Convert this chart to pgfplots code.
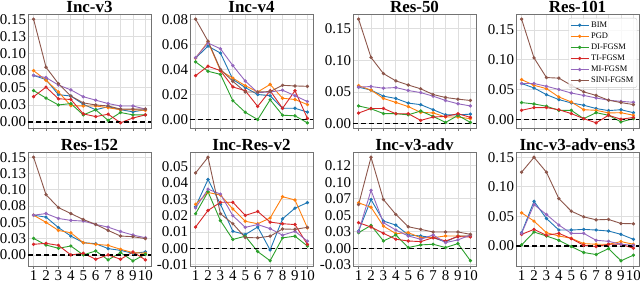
\documentclass[border=0pt]{standalone}
\usepackage{fontspec}
\setmainfont{Liberation Serif}
\usepackage{pgfplots}
\usepackage{pgfplotstable}
\pgfplotsset{compat=1.18}
\definecolor{cBIM}{HTML}{1F77B4}
\definecolor{cPGD}{HTML}{FF7F0E}
\definecolor{cDI}{HTML}{2CA02C}
\definecolor{cTI}{HTML}{D62728}
\definecolor{cMI}{HTML}{9467BD}
\definecolor{cSINI}{HTML}{8C564B}

\pgfplotstableread{
x bim pgd di ti mi sini
1 0.068 0.075 0.046 0.037 0.068 0.150
2 0.062 0.061 0.035 0.051 0.065 0.080
3 0.040 0.044 0.025 0.034 0.054 0.056
4 0.038 0.024 0.027 0.033 0.047 0.038
5 0.026 0.0235 0.0105 0.012 0.037 0.028
6 0.018 0.0235 0.018 0.008 0.032 0.025
7 0.0225 0.021 0.0025 0.0115 0.027 0.0235
8 0.018 0.018 0.014 -0.001 0.0235 0.019
9 0.015 0.018 0.0105 0.006 0.0235 0.019
10 0.018 0.017 0.0105 0.0105 0.019 0.019
}\tA
\pgfplotstableread{
x bim pgd di ti mi sini
1 0.049 0.049 0.046 0.035 0.0493 0.080
2 0.0585 0.062 0.0385 0.0425 0.061 0.0625
3 0.053 0.039 0.036 0.039 0.0564 0.040
4 0.032 0.033 0.015 0.026 0.043 0.0305
5 0.0255 0.027 0.0058 0.023 0.0307 0.022
6 0.020 0.022 0.000 0.0105 0.0215 0.022
7 0.019 0.028 0.0158 0.023 0.022 0.0223
8 0.009 0.017 0.0035 0.009 0.0234 0.0273
9 0.009 0.016 0.003 0.023 0.019 0.0268
10 0.006 0.012 -0.0026 0.001 0.0144 0.0265
}\tB
\pgfplotstableread{
x bim pgd di ti mi sini
1 0.0576 0.060 0.028 0.0168 0.0576 0.165
2 0.053 0.053 0.0235 0.024 0.0586 0.1045
3 0.0434 0.0398 0.016 0.024 0.056 0.079
4 0.0398 0.0335 0.0157 0.0157 0.057 0.0675
5 0.0325 0.027 0.014 0.0157 0.0523 0.061
6 0.030 0.0178 0.020 0.0052 0.049 0.055
7 0.022 0.017 0.0115 0.0105 0.0434 0.046
8 0.014 0.0105 0.002 0.0115 0.0366 0.0413
9 0.014 0.0105 0.013 0.0157 0.0314 0.0387
10 0.015 0.0079 0.002 0.010 0.028 0.0366
}\tC
\pgfplotstableread{
x bim pgd di ti mi sini
1 0.060 0.0665 0.028 0.015 0.060 0.168
2 0.0525 0.057 0.0257 0.0196 0.060 0.103
3 0.0413 0.0514 0.0218 0.0196 0.0553 0.070
4 0.033 0.0374 0.015 0.016 0.050 0.069
5 0.0274 0.029 0.015 0.0095 0.044 0.057
6 0.0235 0.016 0.001 0.001 0.040 0.046
7 0.018 0.015 0.011 -0.006 0.0357 0.040
8 0.0145 0.0106 0.0067 0.0067 0.032 0.032
9 0.016 0.011 -0.0045 0.000 0.030 0.028
10 0.011 0.0067 0.001 0.003 0.0285 0.0246
}\tD
\pgfplotstableread{
x bim pgd di ti mi sini
1 0.061 0.061 0.0254 0.0163 0.061 0.150
2 0.058 0.050 0.0152 0.0178 0.0635 0.0925
3 0.042 0.0376 0.0102 0.0147 0.056 0.0727
4 0.029 0.034 0.0137 0.000 0.053 0.0635
5 0.0188 0.0188 0.000 0.0025 0.052 0.0544
6 0.0173 0.0163 0.0061 -0.0066 0.0468 0.0468
7 0.0097 0.0147 -0.0076 0.000 0.0427 0.0376
8 0.007 0.0086 0.0036 -0.0066 0.036 0.029
9 0.0025 0.0036 -0.0092 0.0046 0.0305 0.028
10 0.0046 0.0025 0.001 -0.0076 0.0264 0.025
}\tE
\pgfplotstableread{
x bim pgd di ti mi sini
1 0.0255 0.0269 0.0211 0.013 0.0247 0.046
2 0.042 0.0341 0.0345 0.0231 0.0361 0.0556
3 0.0269 0.0325 0.0169 0.0281 0.0331 0.0211
4 0.0104 0.024 0.0054 0.0281 0.0199 0.015
5 0.0084 0.0165 0.0074 0.0201 0.0128 0.0066
6 0.013 0.015 -0.002 0.0225 0.0145 0.0064
7 -0.001 0.0185 -0.0076 0.016 0.012 0.0074
8 0.018 0.0315 0.0064 0.015 0.008 0.0118
9 0.0245 0.0295 0.0074 0.0145 0.0104 0.0116
10 0.0279 0.0125 0.0014 0.0024 0.0044 0.0128
}\tF
\pgfplotstableread{
x bim pgd di ti mi sini
1 0.026 0.0688 0.0236 0.0387 0.025 0.0663
2 0.0738 0.0622 0.0346 0.0321 0.0878 0.138
3 0.0412 0.0336 0.011 0.0226 0.0387 0.0738
4 0.0351 0.0221 0.0201 0.0136 0.0276 0.0512
5 0.0201 0.0236 0.001 0.011 0.0186 0.0326
6 0.0186 0.016 0.005 0.010 0.0136 0.0286
7 0.016 0.016 0.006 0.016 0.0201 0.0246
8 0.0095 0.0186 0.001 0.011 0.0085 0.0246
9 0.0186 0.0186 0.007 0.0176 0.0126 0.0246
10 0.0186 0.0186 -0.019 0.017 0.0201 0.0211
}\tG
\pgfplotstableread{
x bim pgd di ti mi sini
1 0.0224 0.056 0.0017 0.0196 0.0213 0.1248
2 0.0755 0.042 0.0235 0.028 0.070 0.150
3 0.0464 0.0224 0.0168 0.0179 0.0532 0.1248
4 0.0269 0.0168 0.0095 0.0213 0.0353 0.080
5 0.0269 0.0129 -0.0011 0.0123 0.0213 0.0588
6 0.028 0.0039 -0.0112 0.0011 0.0213 0.0492
7 0.0269 0.0028 -0.0146 -0.0011 0.0095 0.0442
8 0.0252 0.0028 -0.0045 0.0028 0.0078 0.0448
9 0.0196 0.0073 -0.0252 0.0028 0.0028 0.038
10 0.0112 0.0028 -0.0157 -0.0039 0.0011 0.0375
}\tH

\newcommand{\series}[1]{%
  \addplot[cBIM] table[x=x,y=bim]{#1};
  \addplot[cPGD] table[x=x,y=pgd]{#1};
  \addplot[cDI] table[x=x,y=di]{#1};
  \addplot[cTI] table[x=x,y=ti]{#1};
  \addplot[cMI] table[x=x,y=mi]{#1};
  \addplot[cSINI] table[x=x,y=sini]{#1};
  \addplot[black, dashed, no marks, line width=1.4bp, dash pattern=on 5bp off 3bp, forget plot] coordinates {(0.55,0) (10.45,0)};
}

\pgfplotsset{
  panel/.style={
    scale only axis, width=123bp, height=114bp, anchor=south west,
    xmin=0.55, xmax=10.45, xtick={1,...,10},
    scaled y ticks=false,
    xtick pos=left, ytick pos=left,
    grid=major, major grid style={color=black!13, line width=0.8bp},
    axis line style={black!55, line width=0.8bp},
    tick align=outside, major tick length=3bp,
    major tick style={black!55, line width=0.8bp},
    ytick style={draw=none},
    ticklabel style={font=\fontsize{15}{16}\selectfont},
    yticklabel style={xshift=4.5bp},
    /pgf/number format/assume math mode=true,
    title style={font=\bfseries\fontsize{17}{18}\selectfont, at={(0.5,1)}, anchor=base, yshift=-4bp, inner sep=0pt},
    every axis plot/.append style={line width=0.9bp, mark=*, mark size=1.2bp, mark options={solid}},
    legend image code/.code={\draw[mark repeat=2,mark phase=2] plot coordinates {(0bp,0bp)(9bp,0bp)(18bp,0bp)};},
  },
  toprow/.style={xticklabels={}},
  botrow/.style={xticklabel style={yshift=2bp}},
}

\begin{document}
\begin{tikzpicture}
\useasboundingbox (0bp,0bp) rectangle (640bp,283bp);
% row 1
\begin{axis}[panel, toprow, at={(28bp,155bp)}, title={Inc-v3},
  ymin=-0.0086, ymax=0.1576, ytick={0,0.025,0.05,0.075,0.1,0.125,0.15},
  yticklabels={0.00,0.03,0.05,0.08,0.10,0.13,0.15}]
\series{\tA}
\end{axis}
\begin{axis}[panel, toprow, at={(190bp,155bp)}, title={Inc-v4},
  ymin=-0.0067, ymax=0.0841, ytick={0,0.02,0.04,0.06,0.08},
  yticklabels={0.00,0.02,0.04,0.06,0.08}]
\series{\tB}
\end{axis}
\begin{axis}[panel, toprow, at={(353bp,155bp)}, title={Res-50},
  ymin=-0.0068, ymax=0.173, ytick={0,0.05,0.1,0.15},
  yticklabels={0.00,0.05,0.10,0.15}]
\series{\tC}
\end{axis}
\begin{axis}[panel, toprow, at={(516bp,155bp)}, title={Res-101},
  ymin=-0.0147, ymax=0.1767, ytick={0,0.05,0.1,0.15},
  yticklabels={0.00,0.05,0.10,0.15},
  legend cell align=left,
  legend style={at={(0.985,0.965)}, anchor=north east, font=\fontsize{8.5}{9.5}\selectfont,
    draw=black!20, rounded corners=2bp, fill=white, fill opacity=0.8, text opacity=1,
    inner sep=1.5bp, row sep=0bp, /tikz/every even column/.append style={column sep=3bp}}]
\series{\tD}
\legend{BIM,PGD,DI-FGSM,TI-FGSM,MI-FGSM,SINI-FGSM}
\end{axis}
% row 2
\begin{axis}[panel, botrow, at={(28bp,17bp)}, title={Res-152},
  ymin=-0.017, ymax=0.158, ytick={0,0.025,0.05,0.075,0.1,0.125,0.15},
  yticklabels={0.00,0.03,0.05,0.08,0.10,0.13,0.15}]
\series{\tE}
\end{axis}
\begin{axis}[panel, botrow, at={(190bp,17bp)}, title={Inc-Res-v2},
  ymin=-0.0108, ymax=0.0588, ytick={-0.01,0,0.01,0.02,0.03,0.04,0.05},
  yticklabels={-0.01,0.00,0.01,0.02,0.03,0.04,0.05}]
\series{\tF}
\end{axis}
\begin{axis}[panel, botrow, at={(353bp,17bp)}, title={Inc-v3-adv},
  ymin=-0.027, ymax=0.146, ytick={-0.025,0,0.025,0.05,0.075,0.1,0.125},
  yticklabels={-0.03,0.00,0.03,0.05,0.07,0.10,0.12}]
\series{\tG}
\end{axis}
\begin{axis}[panel, botrow, at={(516bp,17bp)}, title={Inc-v3-adv-ens3},
  ymin=-0.034, ymax=0.159, ytick={0,0.05,0.1,0.15},
  yticklabels={0.00,0.05,0.10,0.15}]
\series{\tH}
\end{axis}
\end{tikzpicture}
\end{document}
